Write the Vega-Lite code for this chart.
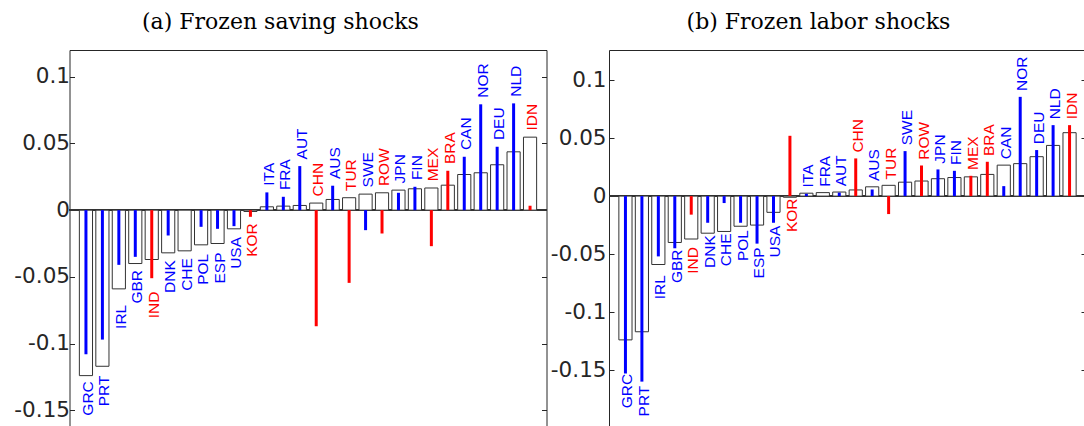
{
  "$schema": "https://vega.github.io/schema/vega-lite/v6.json",
  "background": "white",
  "padding": {"left": 12.5, "top": 10, "right": 0, "bottom": 0},
  "spacing": 1.5,
  "config": {
    "view": {"stroke": "#262626", "strokeWidth": 1},
    "axis": {"grid": false, "domain": false, "title": null}
  },
  "data": {"values": [
    {"country": "GRC", "group": "Advanced", "bar": -0.124, "saving": -0.108, "labor": -0.153},
    {"country": "PRT", "group": "Advanced", "bar": -0.117, "saving": -0.097, "labor": -0.160},
    {"country": "IRL", "group": "Advanced", "bar": -0.059, "saving": -0.041, "labor": -0.052},
    {"country": "GBR", "group": "Advanced", "bar": -0.040, "saving": -0.035, "labor": -0.045},
    {"country": "IND", "group": "Emerging", "bar": -0.037, "saving": -0.051, "labor": -0.016},
    {"country": "DNK", "group": "Advanced", "bar": -0.032, "saving": -0.019, "labor": -0.023},
    {"country": "CHE", "group": "Advanced", "bar": -0.0305, "saving": 0.0, "labor": -0.006},
    {"country": "POL", "group": "Advanced", "bar": -0.026, "saving": -0.0125, "labor": -0.023},
    {"country": "ESP", "group": "Advanced", "bar": -0.025, "saving": -0.014, "labor": -0.041},
    {"country": "USA", "group": "Advanced", "bar": -0.014, "saving": -0.012, "labor": -0.023},
    {"country": "KOR", "group": "Emerging", "bar": -0.001, "saving": -0.005, "labor": 0.052},
    {"country": "ITA", "group": "Advanced", "bar": 0.0025, "saving": 0.0133, "labor": 0.002},
    {"country": "FRA", "group": "Advanced", "bar": 0.003, "saving": 0.010, "labor": 0.0},
    {"country": "AUT", "group": "Advanced", "bar": 0.0035, "saving": 0.033, "labor": 0.003},
    {"country": "CHN", "group": "Emerging", "bar": 0.0053, "saving": -0.087, "labor": 0.0325},
    {"country": "AUS", "group": "Advanced", "bar": 0.008, "saving": 0.0183, "labor": 0.0057},
    {"country": "TUR", "group": "Emerging", "bar": 0.0093, "saving": -0.0545, "labor": -0.0155},
    {"country": "SWE", "group": "Advanced", "bar": 0.012, "saving": -0.015, "labor": 0.0388},
    {"country": "ROW", "group": "Emerging", "bar": 0.013, "saving": -0.0175, "labor": 0.0264},
    {"country": "JPN", "group": "Advanced", "bar": 0.015, "saving": 0.013, "labor": 0.023},
    {"country": "FIN", "group": "Advanced", "bar": 0.016, "saving": 0.0175, "labor": 0.0218},
    {"country": "MEX", "group": "Emerging", "bar": 0.0166, "saving": -0.027, "labor": 0.0175},
    {"country": "BRA", "group": "Emerging", "bar": 0.0187, "saving": 0.0295, "labor": 0.0296},
    {"country": "CAN", "group": "Advanced", "bar": 0.0267, "saving": 0.040, "labor": 0.0086},
    {"country": "NOR", "group": "Advanced", "bar": 0.028, "saving": 0.0793, "labor": 0.0856},
    {"country": "DEU", "group": "Advanced", "bar": 0.034, "saving": 0.0475, "labor": 0.0397},
    {"country": "NLD", "group": "Advanced", "bar": 0.0437, "saving": 0.080, "labor": 0.0612},
    {"country": "IDN", "group": "Emerging", "bar": 0.0547, "saving": 0.0033, "labor": 0.0612}
  ]},
  "hconcat": [
    {
      "title": {"text": "(a) Frozen saving shocks", "font": "DejaVu Serif", "fontSize": 22, "fontWeight": "normal", "color": "black", "frame": "bounds", "anchor": "middle", "offset": 16},
      "width": 477,
      "height": 387,
      "transform": [{"calculate": "datum.bar < 0 ? min(datum.bar, datum.saving) - 0.03 : max(datum.bar, datum.saving) + 0.005", "as": "labelY"}],
      "resolve": {"axis": {"y": "independent"}},
      "layer": [
        {
          "mark": {"type": "rule", "color": "#333333", "strokeWidth": 1},
          "encoding": {"y": {"datum": 0, "type": "quantitative", "scale": {"domain": [-0.17, 0.12], "nice": false, "zero": false}, "axis": null}}
        },
        {
          "mark": {"type": "bar", "fill": "white", "stroke": "#333333", "strokeWidth": 1},
          "encoding": {
            "x": {"field": "country", "type": "nominal", "sort": null, "scale": {"paddingInner": 0.2, "paddingOuter": 0.6}, "axis": null},
            "y": {"field": "bar", "type": "quantitative", "scale": {"domain": [-0.17, 0.12], "nice": false, "zero": false},
                  "axis": {"orient": "left", "values": [-0.15, -0.1, -0.05, 0, 0.05, 0.1], "labelExpr": "'' + datum.value", "tickSize": -5, "tickColor": "#262626", "labelFont": "DejaVu Sans", "labelFontSize": 21.5, "labelColor": "#262626", "labelPadding": 5}},
            "y2": {"datum": 0}
          }
        },
        {
          "mark": {"type": "rule", "strokeWidth": 3},
          "encoding": {
            "x": {"field": "country", "type": "nominal", "sort": null, "scale": {"paddingInner": 0.2, "paddingOuter": 0.6}, "axis": null},
            "y": {"field": "saving", "type": "quantitative", "scale": {"domain": [-0.17, 0.12], "nice": false, "zero": false},
                  "axis": {"orient": "right", "values": [-0.15, -0.1, -0.05, 0, 0.05, 0.1], "labels": false, "tickSize": -5, "tickColor": "#262626"}},
            "y2": {"datum": 0},
            "color": {"field": "group", "type": "nominal", "scale": {"domain": ["Advanced", "Emerging"], "range": ["#0000ff", "#ff0000"]}, "legend": null}
          }
        },
        {
          "mark": {"type": "text", "angle": 270, "align": "left", "baseline": "middle", "font": "Liberation Sans", "fontSize": 15.5, "dy": 2},
          "encoding": {
            "x": {"field": "country", "type": "nominal", "sort": null, "scale": {"paddingInner": 0.2, "paddingOuter": 0.6}, "axis": null},
            "y": {"field": "labelY", "type": "quantitative", "scale": {"domain": [-0.17, 0.12], "nice": false, "zero": false}, "axis": null},
            "text": {"field": "country"},
            "color": {"field": "group", "type": "nominal", "scale": {"domain": ["Advanced", "Emerging"], "range": ["#0000ff", "#ff0000"]}, "legend": null}
          }
        }
      ]
    },
    {
      "title": {"text": "(b) Frozen labor shocks", "font": "DejaVu Serif", "fontSize": 22, "fontWeight": "normal", "color": "black", "frame": "bounds", "anchor": "middle", "offset": 16},
      "width": 477,
      "height": 378,
      "transform": [{"calculate": "datum.bar < 0 ? min(datum.bar, datum.labor) - 0.03 : max(datum.bar, datum.labor) + 0.005", "as": "labelY"}],
      "resolve": {"axis": {"y": "independent"}},
      "layer": [
        {
          "mark": {"type": "rule", "color": "#333333", "strokeWidth": 1},
          "encoding": {"y": {"datum": 0, "type": "quantitative", "scale": {"domain": [-0.2, 0.126], "nice": false, "zero": false}, "axis": null}}
        },
        {
          "mark": {"type": "bar", "fill": "white", "stroke": "#333333", "strokeWidth": 1},
          "encoding": {
            "x": {"field": "country", "type": "nominal", "sort": null, "scale": {"paddingInner": 0.2, "paddingOuter": 0.6}, "axis": null},
            "y": {"field": "bar", "type": "quantitative", "scale": {"domain": [-0.2, 0.126], "nice": false, "zero": false},
                  "axis": {"orient": "left", "values": [-0.15, -0.1, -0.05, 0, 0.05, 0.1], "labelExpr": "'' + datum.value", "tickSize": -5, "tickColor": "#262626", "labelFont": "DejaVu Sans", "labelFontSize": 21.5, "labelColor": "#262626", "labelPadding": 8}},
            "y2": {"datum": 0}
          }
        },
        {
          "mark": {"type": "rule", "strokeWidth": 3},
          "encoding": {
            "x": {"field": "country", "type": "nominal", "sort": null, "scale": {"paddingInner": 0.2, "paddingOuter": 0.6}, "axis": null},
            "y": {"field": "labor", "type": "quantitative", "scale": {"domain": [-0.2, 0.126], "nice": false, "zero": false},
                  "axis": {"orient": "right", "values": [-0.15, -0.1, -0.05, 0, 0.05, 0.1], "labels": false, "tickSize": -5, "tickColor": "#262626"}},
            "y2": {"datum": 0},
            "color": {"field": "group", "type": "nominal", "scale": {"domain": ["Advanced", "Emerging"], "range": ["#0000ff", "#ff0000"]}, "legend": null}
          }
        },
        {
          "mark": {"type": "text", "angle": 270, "align": "left", "baseline": "middle", "font": "Liberation Sans", "fontSize": 15.5, "dy": 2},
          "encoding": {
            "x": {"field": "country", "type": "nominal", "sort": null, "scale": {"paddingInner": 0.2, "paddingOuter": 0.6}, "axis": null},
            "y": {"field": "labelY", "type": "quantitative", "scale": {"domain": [-0.2, 0.126], "nice": false, "zero": false}, "axis": null},
            "text": {"field": "country"},
            "color": {"field": "group", "type": "nominal", "scale": {"domain": ["Advanced", "Emerging"], "range": ["#0000ff", "#ff0000"]}, "legend": null}
          }
        }
      ]
    }
  ]
}
